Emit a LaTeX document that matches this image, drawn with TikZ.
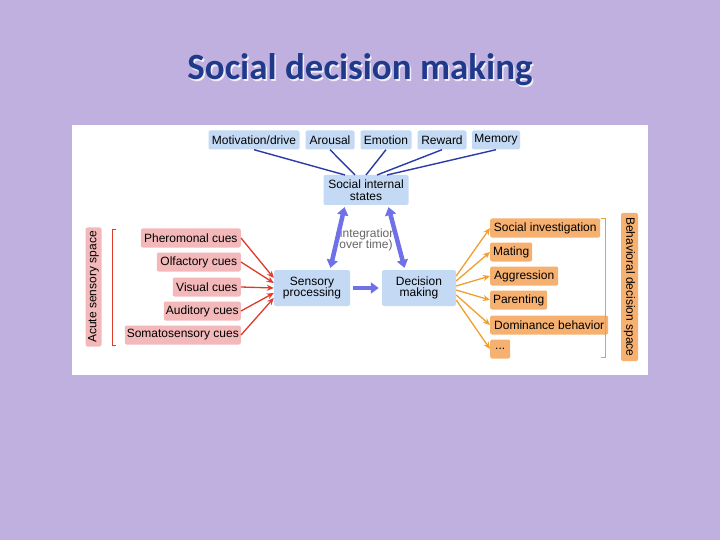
\documentclass[tikz,border=0pt]{standalone}
\usepackage{fontspec}
\setmainfont{Liberation Sans}
\newfontfamily\titlefont{Carlito}
\usetikzlibrary{arrows.meta}
\definecolor{bg}{HTML}{BFB0E0}
\definecolor{bluebox}{HTML}{C4DAF4}
\definecolor{redbox}{HTML}{F2B8BA}
\definecolor{orbox}{HTML}{F6B070}
\definecolor{bluel}{HTML}{2A3AA8}
\definecolor{redl}{HTML}{E03A2A}
\definecolor{orl}{HTML}{F0A030}
\definecolor{fat}{HTML}{7070E8}
\definecolor{titlec}{HTML}{1F3A8A}
\begin{document}
\begin{tikzpicture}[x=1pt,y=-1pt,
  lbl/.style={font=\fontsize{12}{12.5}\selectfont, rounded corners=2pt, inner sep=1pt, minimum height=19pt},
  bbox/.style={lbl, fill=bluebox},
  rbox/.style={lbl, fill=redbox, anchor=east},
  obox/.style={lbl, fill=orbox, anchor=west},
  cbox/.style={bbox, align=center, font=\fontsize{12}{11.5}\selectfont},
  bl/.style={draw=bluel, line width=1.4pt},
  ra/.style={draw=redl, line width=1.3pt, -{Stealth[length=7pt,width=6pt]}},
  oa/.style={draw=orl, line width=1.3pt, -{Stealth[length=7pt,width=6pt]}},
  fa/.style={draw=fat, line width=4.5pt, {Triangle[length=8pt,width=11pt]}-{Triangle[length=8pt,width=11pt]}, shorten <=2pt, shorten >=2pt},
  fs/.style={draw=fat, line width=4.5pt, -{Triangle[length=8pt,width=11pt]}, shorten <=3pt, shorten >=3pt}]
\useasboundingbox (0,0) rectangle (720,540);
\fill[bg] (0,0) rectangle (720,540);
\node[text=white!80!bg] at (361.5,71.5) {\titlefont\bfseries\fontsize{37}{40}\selectfont Social decision making};
\node[text=titlec] (t) at (360,70) {\titlefont\bfseries\fontsize{37}{40}\selectfont Social decision making};
\fill[white] (72,125) rectangle (648,375);
% top
\node[bbox, minimum width=91pt] (mo) at (254,140) {Motivation/drive};
\node[bbox, minimum width=49pt] (ar) at (330,140) {Arousal};
\node[bbox, minimum width=51pt] (em) at (386,140) {Emotion};
\node[bbox, minimum width=49pt] (re) at (442,140) {Reward};
\node[bbox, minimum width=48pt] (me) at (496,140) {Memory};
\node[cbox, minimum width=85pt, minimum height=30pt] (si) at (366,190) {Social internal\\states};
\node[cbox, minimum width=76pt, minimum height=36pt] (sp) at (312,288) {Sensory\\processing};
\node[cbox, minimum width=74pt, minimum height=36pt] (dm) at (419,288) {Decision\\making};
\node[align=center, text=gray!80!black, font=\fontsize{12}{11.5}\selectfont] (it) at (366,240) {(integration\\over time)};
\foreach \n/\p in {mo/345,ar/355,em/366,re/377,me/387}{
  \draw[bl] (\n.south) -- (\p,175);
}
% left
\node[rbox, minimum width=100pt] (c1) at (241,238) {Pheromonal cues};
\node[rbox, minimum width=84pt] (c2) at (241,262) {Olfactory cues};
\node[rbox, minimum width=68pt] (c3) at (241,287) {Visual cues};
\node[rbox, minimum width=77pt] (c4) at (241,311) {Auditory cues};
\node[rbox, minimum width=116pt] (c5) at (241,335) {Somatosensory cues};
\foreach \n/\dy in {c1/10,c2/5,c3/0,c4/-5,c5/-10}{
  \draw[ra] (\n.east) -- ([yshift=\dy pt]sp.west);
}
\draw[redl, line width=0.8pt] (116,229) -- (112,229) -- (112,345) -- (116,345);
\node[fill=redbox, rounded corners=2pt, minimum width=119pt, minimum height=16pt, inner sep=1pt, rotate=90, font=\fontsize{12}{12}\selectfont] (as) at (93.5,287) {Acute sensory space};
% right
\node[obox, minimum width=110pt] (o1) at (490,228) {Social investigation};
\node[obox, minimum width=42pt] (o2) at (490,252) {Mating};
\node[obox, minimum width=68pt] (o3) at (490,276) {Aggression};
\node[obox, minimum width=57pt] (o4) at (490,300) {Parenting};
\node[obox, minimum width=118pt] (o5) at (490,325) {Dominance behavior};
\node[obox, minimum width=20pt] (o6) at (490,349) {...};
\foreach \n/\dy in {o1/12,o2/7,o3/2,o4/-2,o5/-7,o6/-12}{
  \draw[oa] ([yshift=\dy pt]dm.east) -- (\n.west);
}
\draw[orl, line width=0.8pt] (601,218) -- (605,218) -- (605,357) -- (601,357);
\node[fill=orbox, rounded corners=2pt, minimum width=148pt, minimum height=17pt, inner sep=1pt, rotate=-90, font=\fontsize{12}{12}\selectfont] (bd) at (629.5,287) {Behavioral decision space};
% fat arrows
\draw[fa] ([xshift=18pt]sp.north) -- ([xshift=-21pt]si.south);
\draw[fa] ([xshift=-14pt]dm.north) -- ([xshift=22pt]si.south);
\draw[fs] (sp.east) -- (dm.west);
\end{tikzpicture}
\end{document}
